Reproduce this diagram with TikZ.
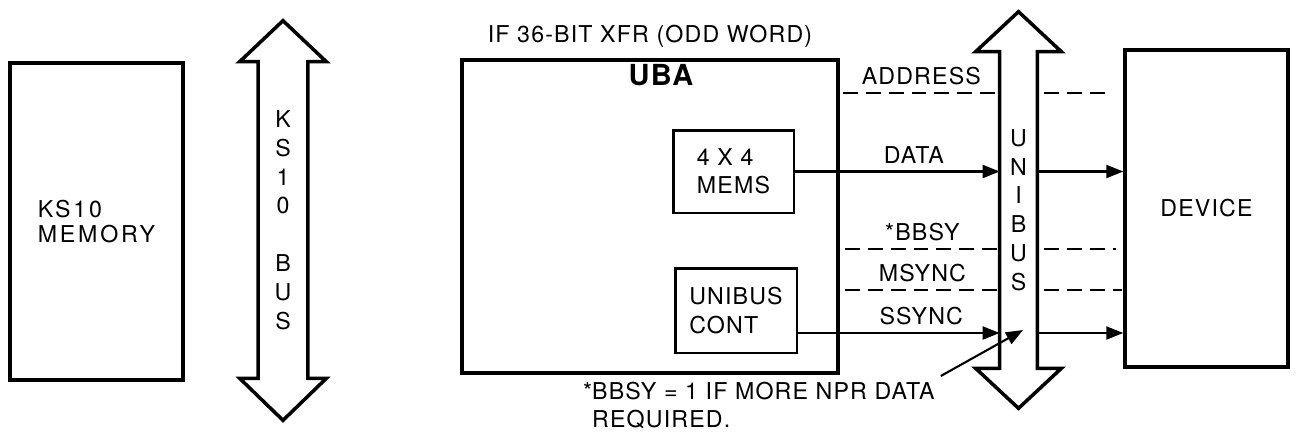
\documentclass[tikz,border=0pt]{standalone}
\usepackage{fontspec}
\setmainfont{TeX Gyre Heros}[LetterSpace=5]
\usetikzlibrary{positioning,arrows.meta,calc}

\begin{document}
\begin{tikzpicture}[
          x=0.02cm, y=-0.02cm,
          font=\fontsize{13.2}{16}\selectfont,
          box/.style={draw, line width=2pt, inner sep=0pt},
          inbox/.style={draw, line width=1.7pt, align=left},
          shaft/.style={inner sep=0pt, align=center, font=\fontsize{13.2}{16.4}\selectfont},
          bus/.style={line width=2pt, line join=miter},
          arr/.style={-{Triangle[length=3.4mm,width=2.6mm]}, line width=1.2pt},
          sig/.style={line width=1.6pt, dash pattern=on 8.5pt off 4.5pt},
          lbl/.style={above=2pt, inner sep=2pt}
      ]
        \useasboundingbox (0,0) rectangle (1298,444);

        % memory and KS10 bus
        \node[box, minimum width=3.46cm, minimum height=6.34cm, align=left, font=\addfontfeature{LetterSpace=12}\fontsize{13.2}{14.6}\selectfont] (mem) at (96.5,221.5) {KS10\\MEMORY};
        \node[shaft, minimum width=0.98cm, minimum height=6.32cm] (ksbus) at (283,220) {K\\S\\1\\0\\[16.4pt]B\\U\\S};
        \draw[bus] (ksbus.south west) -- (ksbus.north west) -- ++(-18.5,0) -- ($(ksbus.north)+(0,-41)$)
          -- ($(ksbus.north east)+(18.5,0)$) -- (ksbus.north east) -- (ksbus.south east) -- ++(18.5,0)
          -- ($(ksbus.south)+(0,42)$) -- ($(ksbus.south west)+(-18.5,0)$) -- cycle;

        % UBA
        \node[box, minimum width=7.52cm, minimum height=6.26cm] (uba) at (650,216.5) {};
        \node[font=\bfseries\fontsize{16.5}{18}\selectfont, below=0pt of uba.north, xshift=0.22cm] (ubatitle) {UBA};
        \node[above=0.09cm of uba] (xfr) {IF 36-BIT XFR (ODD WORD)};
        \node[inbox, minimum width=2.42cm, minimum height=1.66cm] (mems) at (733.5,171.5) {4 X 4\\MEMS};
        \node[inbox, minimum width=2.44cm, minimum height=1.7cm] (cont) at (736,310.5) {UNIBUS\\CONT};

        % unibus and device
        \node[shaft, minimum width=0.74cm, minimum height=6.32cm] (unibus) at (1018.5,210) {U\\N\\I\\B\\U\\S};
        \draw[bus] (unibus.south west) -- (unibus.north west) -- ++(-24,0) -- ($(unibus.north)+(0,-40)$)
          -- ($(unibus.north east)+(24,0)$) -- (unibus.north east) -- (unibus.south east) -- ++(24,0)
          -- ($(unibus.south)+(0,40)$) -- ($(unibus.south west)+(-24,0)$) -- cycle;
        \node[box, minimum width=3.26cm, minimum height=6.34cm] (device) at (1206.5,208.5) {DEVICE};

        % signals
        \coordinate (addr) at (843,93);
        \coordinate (bbsy) at (845,249);
        \coordinate (msync) at (845,290);
        \coordinate (ssync) at ([yshift=-0.45cm]cont.east);
        \draw[sig] (addr) -- node[lbl]{ADDRESS} (addr -| unibus.west);
        \draw[sig] ([xshift=4pt]addr -| unibus.east) -- ([xshift=-8pt]addr -| device.west);
        \draw[arr] (mems.east) -- node[lbl, pos=.58]{DATA} (mems.east -| unibus.west);
        \draw[arr] (mems.east -| unibus.east) -- (mems.east -| device.west);
        \draw[sig] (bbsy) -- node[lbl]{*BBSY} (bbsy -| unibus.west);
        \draw[sig] ([xshift=4pt]bbsy -| unibus.east) -- ([xshift=-4pt]bbsy -| device.west);
        \draw[sig] (msync) -- node[lbl]{MSYNC} (msync -| unibus.west);
        \draw[sig] ([xshift=4pt]msync -| unibus.east) -- ([xshift=-1pt]msync -| device.west);
        \draw[arr] (ssync) -- node[lbl, pos=.61]{SSYNC} (ssync -| unibus.west);
        \draw[arr] (ssync -| unibus.east) -- (ssync -| device.west);

        % footnote
        \node[anchor=north west, align=left] (note) at (586,376) {\llap{*}BBSY = 1 IF MORE NPR DATA\\REQUIRED.};
        \coordinate (npr) at (1023,330);
        \draw[arr] (note.north east) -- (npr);
      \end{tikzpicture}
\end{document}
